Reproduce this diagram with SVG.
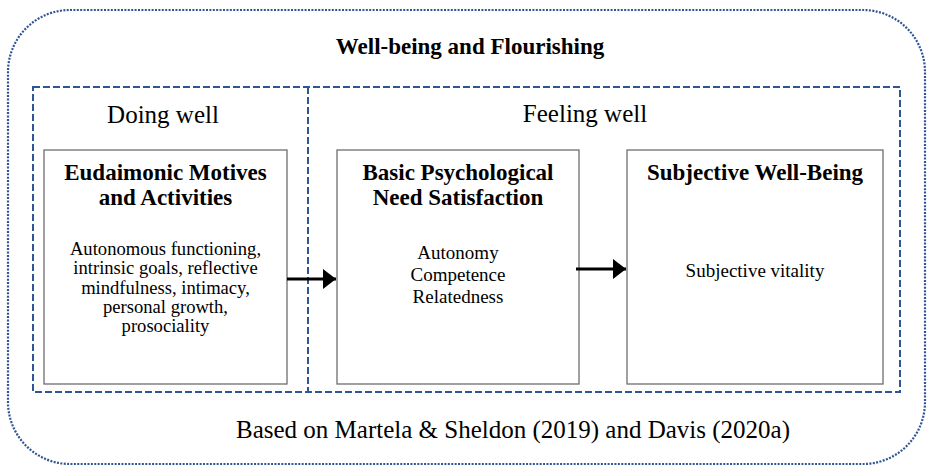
<svg xmlns="http://www.w3.org/2000/svg" width="928" height="467" viewBox="0 0 928 467">
<style>
  text { font-family: "Liberation Serif", "Times New Roman", serif; fill: #000; text-anchor: middle; }
  .title { font-size: 23px; font-weight: bold; }
  .section { font-size: 25px; }
  .head { font-size: 23px; font-weight: bold; }
  .body { font-size: 18.6px; }
  .body2 { font-size: 19px; }
  .foot { font-size: 25px; }
  .box { fill: #fff; stroke: #6e6e6e; stroke-width: 1.3; }
  .dash { fill: none; stroke: #2f5597; stroke-width: 2; stroke-dasharray: 7 3; }
  .dot { fill: none; stroke: #2f5597; stroke-width: 2.2; stroke-dasharray: 2 1.4; }
  .conn { stroke: #000; stroke-width: 3; fill: none; }
</style>
<defs>
  <marker id="arrow" markerUnits="userSpaceOnUse" markerWidth="14" markerHeight="20" refX="13" refY="10" orient="auto">
    <path d="M0,0 L13,10 L0,20 Z" fill="#000"/>
  </marker>
</defs>
<rect width="928" height="467" fill="#fff"/>
<g id="outer">
  <rect class="dot" x="8" y="10" width="917" height="454" rx="62" ry="62"/>
  <text class="title" x="470" y="54">Well-being and Flourishing</text>
</g>
<g id="groups">
  <rect class="dash" x="33" y="87" width="867" height="305"/>
  <line class="dash" x1="308" y1="87" x2="308" y2="392"/>
  <text class="section" x="163" y="123">Doing well</text>
  <text class="section" x="585" y="122">Feeling well</text>
</g>
<g id="node-eudaimonic">
  <rect class="box" x="44" y="150" width="243" height="234"/>
  <text class="head" x="165.5" y="180">Eudaimonic Motives</text>
  <text class="head" x="165.5" y="205">and Activities</text>
  <text class="body" x="165.5" y="255">Autonomous functioning,</text>
  <text class="body" x="165.5" y="274.3">intrinsic goals, reflective</text>
  <text class="body" x="165.5" y="293.5">mindfulness, intimacy,</text>
  <text class="body" x="165.5" y="312.7">personal growth,</text>
  <text class="body" x="165.5" y="332">prosociality</text>
</g>
<g id="node-bpns">
  <rect class="box" x="337" y="150" width="242" height="234"/>
  <text class="head" x="458" y="180">Basic Psychological</text>
  <text class="head" x="458" y="205">Need Satisfaction</text>
  <text class="body2" x="458" y="259">Autonomy</text>
  <text class="body2" x="458" y="280.7">Competence</text>
  <text class="body2" x="458" y="302.5">Relatedness</text>
</g>
<g id="node-swb">
  <rect class="box" x="627" y="150" width="256" height="234"/>
  <text class="head" x="755" y="180">Subjective Well-Being</text>
  <text class="body2" x="755" y="277">Subjective vitality</text>
</g>
<g id="connectors">
  <line class="conn" x1="287" y1="279" x2="336" y2="279" marker-end="url(#arrow)"/>
  <line class="conn" x1="576" y1="269" x2="626" y2="269" marker-end="url(#arrow)"/>
</g>
<g id="footnote">
  <text class="foot" x="513" y="438">Based on Martela &amp; Sheldon (2019) and Davis (2020a)</text>
</g>
</svg>
